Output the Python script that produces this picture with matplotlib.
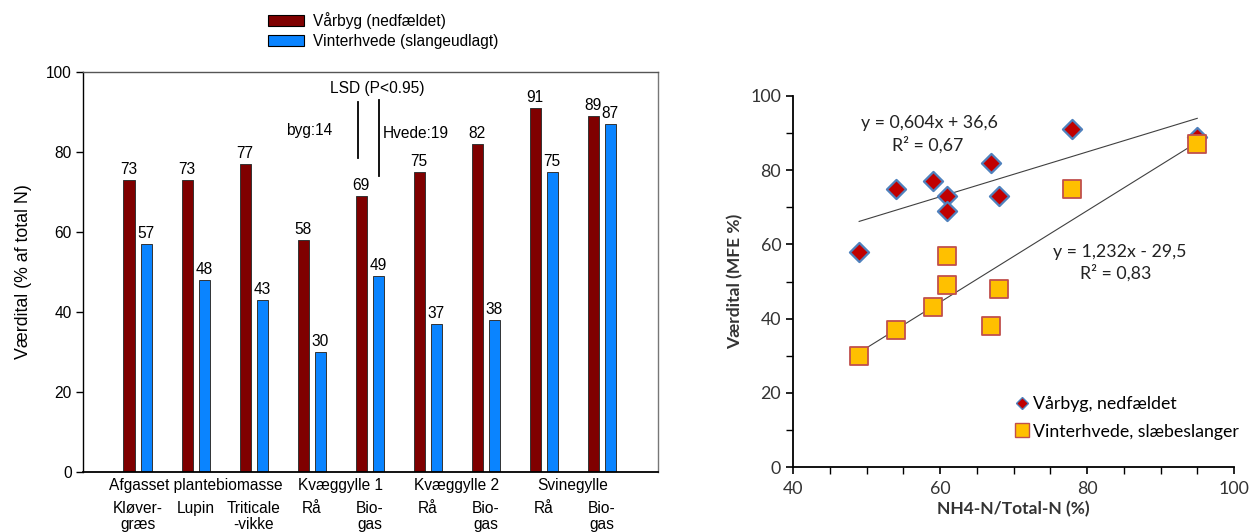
import matplotlib
matplotlib.use("Agg")
import matplotlib.pyplot as plt
import numpy as np
from matplotlib.patches import Patch
from matplotlib.lines import Line2D
from matplotlib.ticker import MultipleLocator

# ---------------- data ----------------
groups = ["Kløver-\ngræs", "Lupin", "Triticale\n-vikke", "Rå", "Bio-\ngas",
          "Rå", "Bio-\ngas", "Rå", "Bio-\ngas"]
supergroups = ["Afgasset plantebiomasse", "Kvæggylle 1", "Kvæggylle 2", "Svinegylle"]
supergroup_pos = [1.0, 3.5, 5.5, 7.5]
varbyg = [73, 73, 77, 58, 69, 75, 82, 91, 89]
vinterhvede = [57, 48, 43, 30, 49, 37, 38, 75, 87]
bar_series_names = ["Vårbyg (nedfældet)", "Vinterhvede (slangeudlagt)"]
lsd_byg = 14
lsd_hvede = 19

nh4_ratio = [61, 68, 59, 49, 61, 54, 67, 78, 95]
scatter_varbyg = [73, 73, 77, 58, 69, 75, 82, 91, 89]
scatter_hvede = [57, 48, 43, 30, 49, 37, 38, 75, 87]
scatter_names = ["Vårbyg, nedfældet", "Vinterhvede, slæbeslanger"]
fit_varbyg = (0.604, 36.6)
fit_hvede = (1.232, -29.5)
r2_varbyg = "0,67"
r2_hvede = "0,83"

# ---------------- figure ----------------
W, H = 1251, 532
fig = plt.figure(figsize=(W / 100, H / 100), dpi=100)

def frac(x0, y0, x1, y1):
    return [x0 / W, 1 - y1 / H, (x1 - x0) / W, (y1 - y0) / H]

# ---------- left bar chart ----------
lf = ['Liberation Sans', 'DejaVu Sans']
fs = 11.2
ax = fig.add_axes(frac(83, 72, 658, 472))
x = np.arange(len(groups))
bw = 0.19
off = 0.147
red = "#7F0000"
blue = "#0A84FF"
ax.bar(x - off, varbyg, bw, color=red, edgecolor="#333333", linewidth=0.7)
ax.bar(x + off, vinterhvede, bw, color=blue, edgecolor="#333333", linewidth=0.7)
for xi, v in zip(x, varbyg):
    ax.text(xi - off, v + 0.7, str(v), ha="center", va="bottom", fontsize=fs, family=lf)
for xi, v in zip(x, vinterhvede):
    ax.text(xi + off, v + 0.7, str(v), ha="center", va="bottom", fontsize=fs, family=lf)

ax.set_xlim(-0.94, 8.97)
ax.set_ylim(0, 100)
ax.set_yticks(range(0, 101, 20))
ax.set_xticks([])
ax.tick_params(axis="y", direction="out", length=5, width=1, labelsize=fs, pad=3)
for lab in ax.get_yticklabels():
    lab.set_family(lf)
ax.spines["left"].set_color("black")
ax.spines["bottom"].set_color("black")
ax.spines["bottom"].set_linewidth(1.3)
ax.spines["left"].set_linewidth(1.0)
ax.spines["top"].set_color("#555555")
ax.spines["right"].set_color("#777777")
ax.spines["top"].set_linewidth(1.0)
ax.spines["right"].set_linewidth(1.0)
ax.set_ylabel("Værdital (% af total N)", fontsize=12.8, family=lf, labelpad=10)

# LSD annotation
ax.text(4.13, 96, "LSD (P<0.95)", ha="center", va="center", fontsize=fs, family=lf)
ax.plot([3.80, 3.80], [92.5, 92.5 - lsd_byg], color="black", lw=1.3)
ax.plot([4.16, 4.16], [93, 93 - lsd_hvede], color="black", lw=1.3)
ax.text(3.35, 85.5, f"byg:{lsd_byg}", ha="right", va="center", fontsize=fs, family=lf)
ax.text(4.23, 84.7, f"Hvede:{lsd_hvede}", ha="left", va="center", fontsize=fs, family=lf)

# category labels
for p, name in zip(supergroup_pos, supergroups):
    ax.text(p, -3.3, name, ha="center", va="center", fontsize=fs, family=lf, clip_on=False)
for xi, name in zip(x, groups):
    ax.text(xi, -7.2, name, ha="center", va="top", fontsize=fs, family=lf,
            linespacing=1.12, clip_on=False)

handles = [Patch(facecolor=red, edgecolor="black", linewidth=0.8),
           Patch(facecolor=blue, edgecolor="black", linewidth=0.8)]
fig.legend(handles, bar_series_names, loc="upper left", bbox_to_anchor=(262 / W, 1 - 6 / H),
           frameon=False, prop={"family": lf, "size": fs}, handlelength=2.3,
           handleheight=0.72, handletextpad=0.55, labelspacing=0.3, borderaxespad=0)

# ---------- right scatter chart ----------
rf = ['Lato', 'DejaVu Sans']
rfs = 12.8
ax2 = fig.add_axes(frac(793, 96, 1234, 467))
xs = np.array([min(nh4_ratio), max(nh4_ratio)])
ax2.plot(xs, fit_varbyg[0] * xs + fit_varbyg[1], color="#404040", lw=0.8, zorder=1)
ax2.plot(xs, fit_hvede[0] * xs + fit_hvede[1], color="#404040", lw=0.8, zorder=1)
ax2.scatter(nh4_ratio, scatter_varbyg, marker="D", s=95, facecolor="#C00000",
            edgecolor="#4F81BD", linewidth=1.6, zorder=3)
ax2.scatter(nh4_ratio, scatter_hvede, marker="s", s=150, facecolor="#FFC000",
            edgecolor="#C0504D", linewidth=1.3, zorder=4)
ax2.set_xlim(40, 100)
ax2.set_ylim(0, 100)
ax2.xaxis.set_major_locator(MultipleLocator(20))
ax2.xaxis.set_minor_locator(MultipleLocator(5))
ax2.yaxis.set_major_locator(MultipleLocator(20))
ax2.yaxis.set_minor_locator(MultipleLocator(10))
ax2.tick_params(which="major", direction="out", length=5, width=1.2, labelsize=rfs,
                colors="black", labelcolor="#333333")
ax2.tick_params(which="minor", direction="out", length=5, width=1.0)
ax2.tick_params(axis="x", pad=5)
for lab in ax2.get_xticklabels() + ax2.get_yticklabels():
    lab.set_family(rf)
ax2.spines["top"].set_visible(False)
ax2.spines["right"].set_visible(False)
ax2.spines["left"].set_linewidth(1.3)
ax2.spines["bottom"].set_linewidth(1.3)
ax2.set_xlabel("NH4-N/Total-N (%)", fontsize=12.5, fontweight="bold", family=rf,
               color="#333333", labelpad=3)
ax2.set_ylabel("Værdital (MFE %)", fontsize=12.5, fontweight="bold", family=rf,
               color="#333333", labelpad=5)

ax2.text(58.6, 92.7, f"y = {fit_varbyg[0]:.3f}x + {fit_varbyg[1]:.1f}".replace(".", ","),
         ha="center", va="center", fontsize=rfs, family=rf, color="#222222")
ax2.text(58.3, 86.8, f"R² = {r2_varbyg}", ha="center", va="center", fontsize=rfs,
         family=rf, color="#222222")
ax2.text(84.5, 58.0, f"y = {fit_hvede[0]:.3f}x - {abs(fit_hvede[1]):.1f}".replace(".", ","),
         ha="center", va="center", fontsize=rfs, family=rf, color="#222222")
ax2.text(83.9, 52.3, f"R² = {r2_hvede}", ha="center", va="center", fontsize=rfs,
         family=rf, color="#222222")

lh = [Line2D([], [], marker="D", ls="none", markersize=6, markerfacecolor="#C00000",
             markeredgecolor="#4F81BD", markeredgewidth=1.0),
      Line2D([], [], marker="s", ls="none", markersize=10, markerfacecolor="#FFC000",
             markeredgecolor="#C0504D", markeredgewidth=1.0)]
ax2.legend(lh, scatter_names, loc="upper left", bbox_to_anchor=(1015 / W, 1 - 396 / H),
           bbox_transform=fig.transFigure, frameon=False,
           prop={"family": rf, "size": rfs}, handlelength=0.8, handletextpad=0.2,
           labelspacing=0.65, borderaxespad=0, borderpad=0)

fig.savefig("out.png", dpi=100)
